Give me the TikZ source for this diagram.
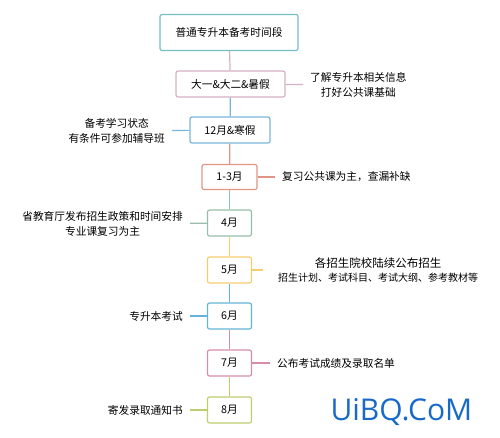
\documentclass[tikz,border=0pt]{standalone}
\usepackage{fontspec}
\setmainfont{Noto Sans CJK SC}
\newfontfamily\uibqfont{Open Sans}
\usepackage{graphicx,tikz}
\usetikzlibrary{shapes.geometric, arrows}
\definecolor{tealc}{RGB}{118,190,196}
\definecolor{mauvec}{RGB}{212,176,196}
\definecolor{skyc}{RGB}{120,182,216}
\definecolor{salmonc}{RGB}{224,150,135}
\definecolor{sagec}{RGB}{150,190,170}
\definecolor{amberc}{RGB}{245,205,110}
\definecolor{bluec}{RGB}{100,180,215}
\definecolor{rosec}{RGB}{215,140,170}
\definecolor{olivec}{RGB}{190,205,110}
\definecolor{uibqc}{RGB}{25,105,200}
\tikzstyle{box} = [rectangle, rounded corners=2pt, line width=1.2pt, fill=white, minimum height=26pt, text centered, font=\fontsize{10.7}{13}\selectfont, inner sep=0pt]
\tikzstyle{month} = [box, minimum width=44pt]
\tikzstyle{note} = [align=center, inner xsep=7pt, inner ysep=0pt, font=\fontsize{10.7}{14.5}\selectfont]
\tikzstyle{link} = [line width=1.2pt]

\begin{document}
\begin{tikzpicture}[x=1pt,y=-1pt]
        \useasboundingbox (0,0) rectangle (500,437);
        \node [box, draw=tealc, minimum width=138pt, minimum height=36pt] at (229,32.5) (top) {普通专升本备考时间段};
        \node [box, draw=mauvec, minimum width=109pt] at (230.5,84) (y1) {大一\&大二\&暑假};
        \node [box, draw=skyc, minimum width=80pt] at (230,130) (dec) {12月\&寒假};
        \node [box, draw=salmonc, minimum width=55pt, minimum height=25pt] at (229.5,177) (jan) {1-3月};
        \node [month, draw=sagec] at (229.5,223) (apr) {4月};
        \node [month, draw=amberc] at (229.5,270) (may) {5月};
        \node [month, draw=bluec] at (229.5,316) (jun) {6月};
        \node [month, draw=rosec] at (229.5,363) (jul) {7月};
        \node [month, draw=olivec] at (229.5,410) (aug) {8月};
        \draw [link, mauvec] (top) -- (y1);
        \draw [link, skyc] (y1) -- (dec);
        \draw [link, salmonc] (dec) -- (jan);
        \draw [link, sagec] (jan) -- (apr);
        \draw [link, amberc] (apr) -- (may);
        \draw [link, bluec] (may) -- (jun);
        \draw [link, rosec] (jun) -- (jul);
        \draw [link, olivec] (jul) -- (aug);
        \node [note, anchor=west] at (303,85) (info) {了解专升本相关信息\\打好公共课基础};
        \node [note, anchor=east] at (172,131) (state) {备考学习状态\\有条件可参加辅导班};
        \node [note, anchor=west] at (275,177) (review) {复习公共课为主，查漏补缺};
        \node [note, anchor=east] at (190,224) (policy) {省教育厅发布招生政策和时间安排\\专业课复习为主};
        \node [note, anchor=west, inner xsep=0pt] at (278,270) (plan) {{\fontsize{11.5}{14}\selectfont 各招生院校陆续公布招生}\\{\fontsize{10}{13}\selectfont 招生计划、考试科目、考试大纲、参考教材等}};
        \node [note, anchor=east] at (190,316) (exam) {专升本考试};
        \node [note, anchor=west] at (270,363) (result) {公布考试成绩及录取名单};
        \node [note, anchor=east] at (190,410) (notice) {寄发录取通知书};
        \draw [link, mauvec] (y1) -- (info);
        \draw [link, skyc] (dec) -- (state);
        \draw [link, salmonc] (jan) -- (review);
        \draw [link, sagec] (apr) -- (policy);
        \draw [link, amberc] (may) -- ([xshift=-15pt]plan.west);
        \draw [link, bluec] (jun) -- (exam);
        \draw [link, rosec] (jul) -- (result);
        \draw [link, olivec] (aug) -- (notice);
        \node [text=uibqc, font=\uibqfont\fontsize{30}{30}\selectfont, anchor=west] at (327,412) (mark) {UiBQ.CoM};
\end{tikzpicture}
\end{document}
